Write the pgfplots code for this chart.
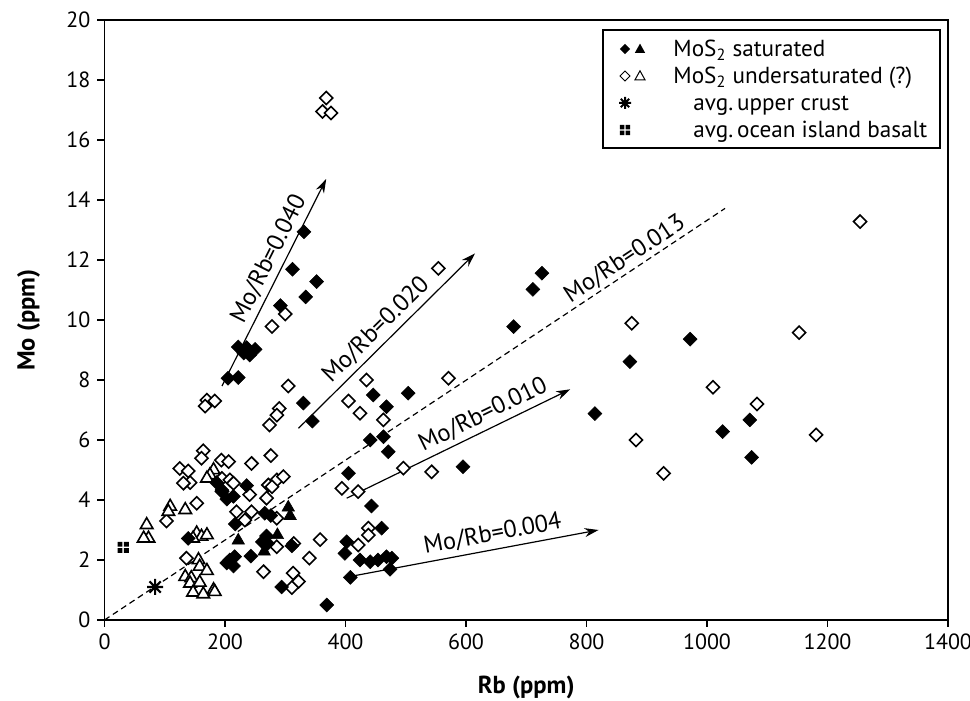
\documentclass[border=0pt]{standalone}
\usepackage{fontspec}
\setmainfont{PT Sans}
\usepackage{pgfplots}
\pgfplotsset{compat=1.18}
\usetikzlibrary{arrows.meta}

\pgfdeclareplotmark{ast8}{%
 \pgfpathmoveto{\pgfqpoint{-\pgfplotmarksize}{0pt}}\pgfpathlineto{\pgfqpoint{\pgfplotmarksize}{0pt}}%
 \pgfpathmoveto{\pgfqpoint{0pt}{-\pgfplotmarksize}}\pgfpathlineto{\pgfqpoint{0pt}{\pgfplotmarksize}}%
 \pgfpathmoveto{\pgfqpoint{-.7071\pgfplotmarksize}{-.7071\pgfplotmarksize}}\pgfpathlineto{\pgfqpoint{.7071\pgfplotmarksize}{.7071\pgfplotmarksize}}%
 \pgfpathmoveto{\pgfqpoint{-.7071\pgfplotmarksize}{.7071\pgfplotmarksize}}\pgfpathlineto{\pgfqpoint{.7071\pgfplotmarksize}{-.7071\pgfplotmarksize}}%
 \pgfusepathqstroke}
\pgfdeclareplotmark{quad}{%
 \pgfpathrectangle{\pgfqpoint{-2.8pt}{0.4pt}}{\pgfqpoint{2.4pt}{2.4pt}}%
 \pgfpathrectangle{\pgfqpoint{0.4pt}{0.4pt}}{\pgfqpoint{2.4pt}{2.4pt}}%
 \pgfpathrectangle{\pgfqpoint{-2.8pt}{-2.8pt}}{\pgfqpoint{2.4pt}{2.4pt}}%
 \pgfpathrectangle{\pgfqpoint{0.4pt}{-2.8pt}}{\pgfqpoint{2.4pt}{2.4pt}}%
 \pgfusepathqfill}

\begin{document}
\begin{tikzpicture}
\begin{axis}[
 at={(52.25pt,40.5pt)}, anchor=south west,
 scale only axis, width=421.75pt, height=300pt,
 xmin=0, xmax=1400, ymin=0, ymax=20,
 xtick={0,200,...,1400}, ytick={0,2,...,20},
 tick align=outside, xtick pos=bottom, ytick pos=left,
 major tick length=3.5pt,
 axis line style={line width=0.9pt},
 every tick/.style={black, line width=0.8pt},
 tick label style={font=\fontsize{11}{13}\selectfont},
 /pgf/number format/assume math mode=true,
 /pgf/number format/1000 sep={},
 xlabel={Rb (ppm)}, ylabel={Mo (ppm)},
 label style={font=\bfseries\fontsize{12.3}{14}\selectfont},
 xlabel style={at={(axis description cs:0.5,-0.113)}, anchor=center},
 ylabel style={at={(axis description cs:-0.09,0.5)}, anchor=center},
]
% hollow diamonds (MoS2 undersaturated)
\addplot[only marks, mark=square*, mark size=2.3pt,
 mark options={rotate=45, fill=white, draw=black, line width=0.8pt}] coordinates {
(368,17.40) (362,16.95) (376,16.90) (300,10.20) (278,9.78)
(305,7.80) (435,8.00) (405,7.30) (424,6.89) (463,6.67) (554,11.72) (571,8.06)
(170,7.33) (183,7.30) (167,7.13) (290,7.05) (286,6.83) (274,6.50)
(164,5.64) (161,5.39) (194,5.33) (206,5.28) (244,5.22) (276,5.48)
(125,5.05) (139,4.97) (142,4.58) (131,4.56)
(195,4.72) (208,4.67) (214,4.56) (272,4.50) (286,4.67) (297,4.78) (269,4.06)
(153,3.89) (195,4.28) (241,4.18) (278,4.44)
(244,3.61) (286,3.39) (233,3.33) (219,3.61) (103,3.30)
(394,4.39) (421,4.28) (496,5.06) (543,4.94)
(358,2.68) (314,2.55) (340,2.06) (421,2.50) (438,3.06) (438,2.83)
(264,1.61) (313,1.56) (322,1.28) (311,1.08) (286,2.44) (136,2.06)
(875,9.89) (1153,9.58) (1010,7.76) (1083,7.20) (882,6.00) (1181,6.17) (928,4.89) (1254,13.28)
};
% hollow triangles
\addplot[only marks, mark=triangle*, mark size=3.6pt,
 mark options={fill=white, draw=black, line width=0.8pt}] coordinates {
(181,5.00) (175,4.83) (170,4.72)
(109,3.78) (106,3.61) (134,3.67) (70,3.17) (73,2.72) (65,2.72)
(153,2.89) (161,2.78) (170,2.83) (147,2.72)
(156,2.00) (158,1.78) (170,1.64) (134,1.44) (144,1.40) (142,1.22) (158,1.25)
(181,1.00) (147,0.92) (164,0.86) (183,0.94)
};
% filled diamonds (MoS2 saturated)
\addplot[only marks, mark=square*, mark size=2.45pt,
 mark options={rotate=45, fill=black, draw=black, line width=0.3pt}] coordinates {
(331,12.94) (312,11.69) (352,11.28) (334,10.77) (292,10.48)
(222,9.10) (236,9.08) (250,9.02) (241,8.83) (231,8.90) (205,8.06) (222,8.08)
(330,7.23) (345,6.63) (446,7.50) (468,7.11) (504,7.56)
(441,6.00) (463,6.11) (471,5.61) (405,4.89) (595,5.11)
(186,4.58) (195,4.33) (203,4.03) (214,4.12) (236,4.48) (217,3.20)
(266,3.56) (276,3.48) (269,2.80) (262,2.60) (271,2.55) (311,2.47) (243,2.13)
(139,2.72) (208,2.00) (216,2.11) (214,1.80) (203,1.90) (294,1.10) (369,0.50)
(443,3.80) (460,3.06) (402,2.61) (399,2.22)
(424,2.00) (441,1.94) (454,2.00) (468,2.11) (477,2.06) (474,1.69) (408,1.42)
(726,11.56) (711,11.02) (679,9.78) (814,6.88)
(972,9.36) (872,8.61) (1071,6.67) (1026,6.28) (1074,5.42)
};
% filled triangles
\addplot[only marks, mark=triangle*, mark size=3.6pt,
 mark options={fill=black, draw=black, line width=0.3pt}] coordinates {
(305,3.75) (308,3.47) (222,2.65) (287,2.83) (265,2.28)
};
% avg upper crust
\addplot[only marks, mark=ast8, mark size=4pt, mark options={line width=1.1pt}] coordinates {(84,1.1)};
% avg ocean island basalt
\addplot[only marks, mark=quad] coordinates {(31,2.42)};
% ratio lines
\addplot[black, line width=0.6pt, dash pattern=on 3pt off 2pt] coordinates {(0,0) (1030,13.72)}
 node[pos=0.85, sloped, above, inner sep=1pt, font=\fontsize{12.2}{14}\selectfont] {Mo/Rb=0.013};
\addplot[black, line width=0.6pt, -{Stealth[length=7pt, width=4.5pt]}] coordinates {(195,7.8) (368,14.7)}
 node[pos=0.58, sloped, above, inner sep=2.2pt, font=\fontsize{12.2}{14}\selectfont] {Mo/Rb=0.040};
\addplot[black, line width=0.6pt, -{Stealth[length=7pt, width=4.5pt]}] coordinates {(322,6.39) (615,12.22)}
 node[pos=0.5, sloped, above, inner sep=2.2pt, font=\fontsize{12.2}{14}\selectfont] {Mo/Rb=0.020};
\addplot[black, line width=0.6pt, -{Stealth[length=7pt, width=4.5pt]}] coordinates {(402,4.06) (773,7.69)}
 node[pos=0.64, sloped, above, inner sep=2.2pt, font=\fontsize{12.2}{14}\selectfont] {Mo/Rb=0.010};
\addplot[black, line width=0.6pt, -{Stealth[length=7pt, width=4.5pt]}] coordinates {(413,1.47) (820,3.0)}
 node[pos=0.58, sloped, above, inner sep=2.2pt, font=\fontsize{12.2}{14}\selectfont] {Mo/Rb=0.004};
\end{axis}
% legend
\draw[line width=0.6pt, fill=white] (301.5pt,276.5pt) rectangle (470pt,335.5pt);
\fill[shift={(312.5pt,326pt)}] (0,2.6pt) -- (2.6pt,0) -- (0,-2.6pt) -- (-2.6pt,0) -- cycle;
\fill[shift={(320pt,326pt)}] (0,2.7pt) -- (2.6pt,-2pt) -- (-2.6pt,-2pt) -- cycle;
\draw[line width=0.5pt, shift={(312.5pt,312.5pt)}] (0,2.5pt) -- (2.5pt,0) -- (0,-2.5pt) -- (-2.5pt,0) -- cycle;
\draw[line width=0.5pt, shift={(320pt,312.5pt)}] (0,2.6pt) -- (2.5pt,-1.9pt) -- (-2.5pt,-1.9pt) -- cycle;
\draw[line width=1pt, shift={(312.5pt,299pt)}] (-3pt,0)--(3pt,0) (0,-3pt)--(0,3pt) (-2.1pt,-2.1pt)--(2.1pt,2.1pt) (-2.1pt,2.1pt)--(2.1pt,-2.1pt);
\fill[shift={(312.5pt,285.5pt)}] (-2.6pt,0.35pt) rectangle ++(2.25pt,2.25pt) (0.35pt,0.35pt) rectangle ++(2.25pt,2.25pt) (-2.6pt,-2.6pt) rectangle ++(2.25pt,2.25pt) (0.35pt,-2.6pt) rectangle ++(2.25pt,2.25pt);
\begin{scope}[every node/.style={anchor=base west, inner sep=0pt, font=\fontsize{11.6}{14}\selectfont}]
\node at (336.5pt,322.25pt) {MoS\textsubscript{2} saturated};
\node at (336.5pt,308.75pt) {MoS\textsubscript{2} undersaturated (?)};
\node at (346.5pt,295.25pt) {avg.\,upper crust};
\node at (346.5pt,281.75pt) {avg.\,ocean island basalt};
\end{scope}
\pgfresetboundingbox
\path[use as bounding box] (0,0) rectangle (485pt,350.5pt);
\end{tikzpicture}
\end{document}
